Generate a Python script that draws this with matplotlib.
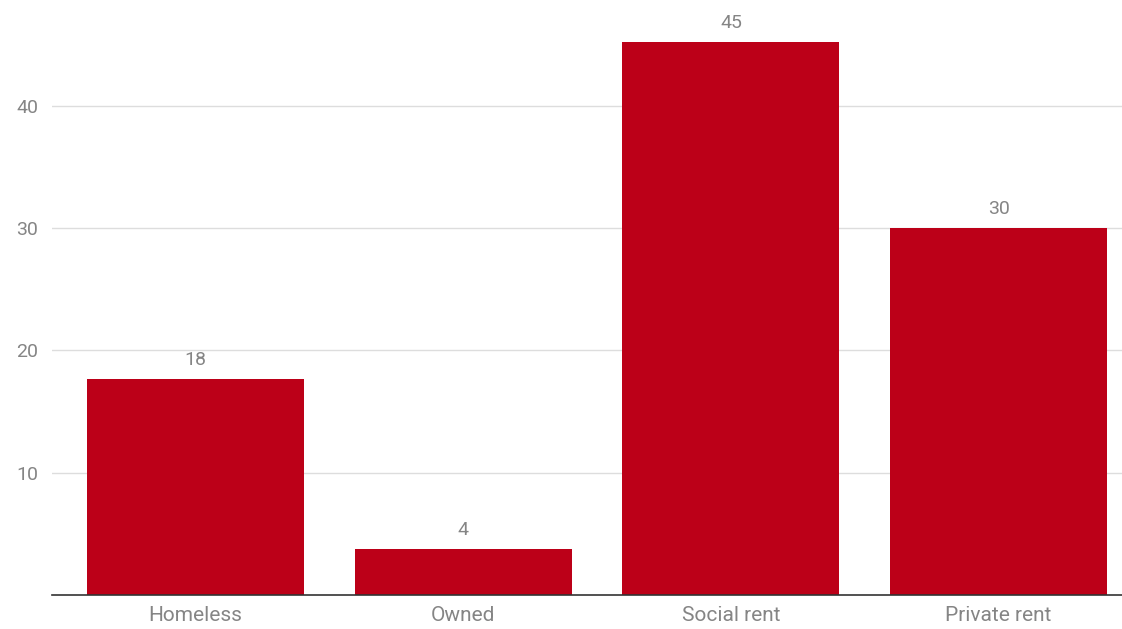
import matplotlib
matplotlib.use("Agg")
import matplotlib.pyplot as plt

categories = ['Homeless', 'Owned', 'Social rent', 'Private rent']
values = [17.7, 3.8, 45.2, 30.0]
labels = ['18', '4', '45', '30']
yticks = [10, 20, 30, 40]

plt.rcParams['font.family'] = ['Roboto', 'DejaVu Sans']
grey = '#858585'

fig = plt.figure(figsize=(11.22, 6.29), dpi=100)
ax = fig.add_axes([52 / 1122, 34 / 629, 1070 / 1122, 595 / 629])

x = range(len(categories))
bars = ax.bar(x, values, width=0.81, color='#bc0018', zorder=2)
for b, lab in zip(bars, labels):
    ax.text(b.get_x() + b.get_width() / 2, b.get_height() + 0.8, lab,
            ha='center', va='bottom', fontsize=14, color=grey)

ax.set_xlim(-0.536, 3.461)
ax.set_ylim(0, 48.65)
ax.set_yticks(yticks)
ax.set_yticklabels([str(t) for t in yticks])
ax.set_xticks(list(x))
ax.set_xticklabels(categories)
ax.grid(axis='y', color='#dddddd', linewidth=1, zorder=0)
for s in ['top', 'right', 'left']:
    ax.spines[s].set_visible(False)
ax.spines['bottom'].set_color('#333333')
ax.spines['bottom'].set_linewidth(1.2)
ax.spines['bottom'].set_zorder(3)
ax.tick_params(axis='both', length=0, labelcolor=grey)
ax.tick_params(axis='x', pad=8, labelsize=15)
ax.tick_params(axis='y', pad=10, labelsize=14)

fig.savefig('out.png', dpi=100)
